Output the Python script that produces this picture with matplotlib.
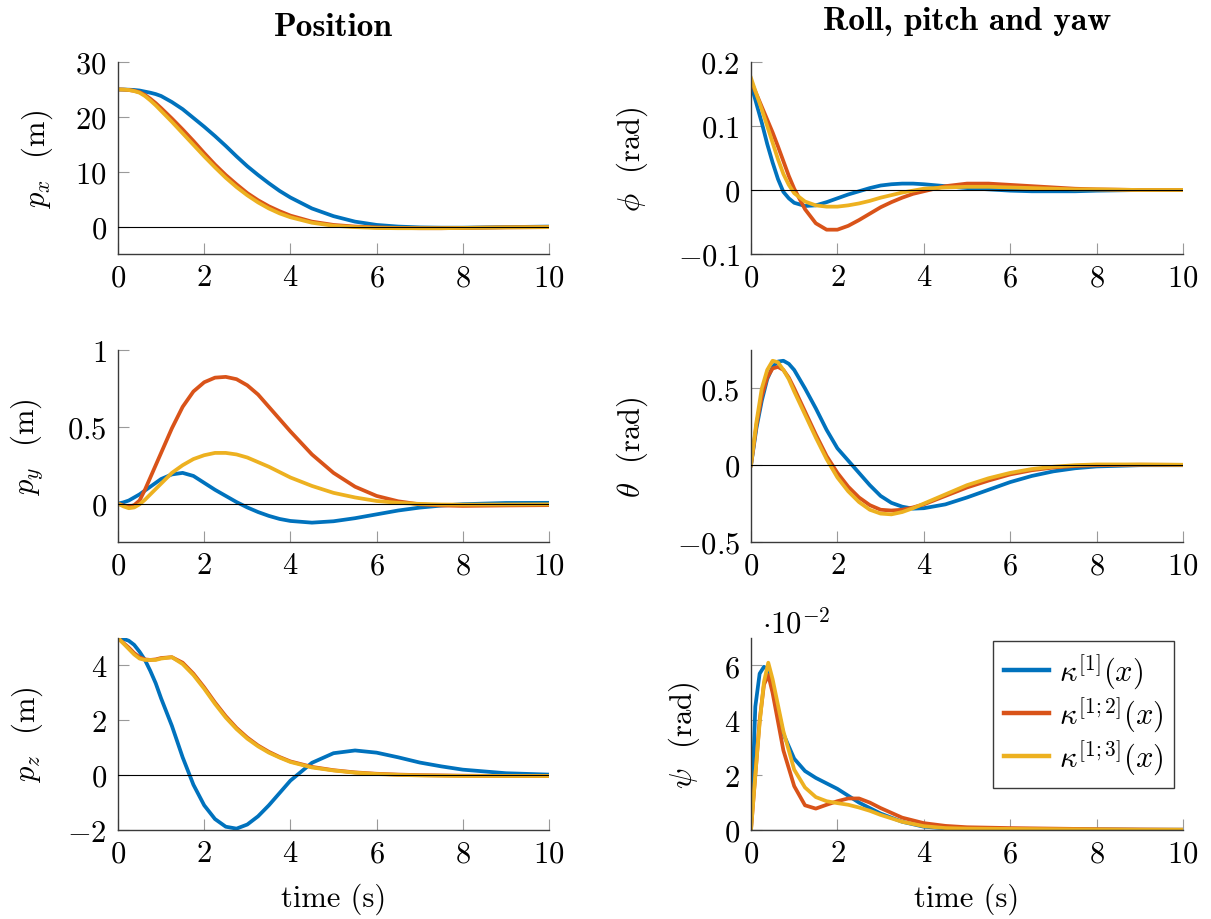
import numpy as np
import matplotlib
matplotlib.use("Agg")
import matplotlib.pyplot as plt
from matplotlib.ticker import FuncFormatter

plt.rcParams['font.family'] = 'cmr10'
plt.rcParams['mathtext.fontset'] = 'cm'
plt.rcParams['axes.unicode_minus'] = False
plt.rcParams['axes.formatter.use_mathtext'] = True

# sample times (s)
t = [0, 0.125, 0.25, 0.375, 0.5, 0.625, 0.75, 0.875, 1, 1.25, 1.5, 1.75, 2, 2.25, 2.5,
     2.75, 3, 3.25, 3.5, 3.75, 4, 4.5, 5, 5.5, 6, 6.5, 7, 7.5, 8, 9, 10]
t_psi = [0, 0.1, 0.2, 0.3, 0.4, 0.5, 0.75, 1, 1.25, 1.5, 1.75, 2, 2.25, 2.5,
         2.75, 3, 3.5, 4, 4.5, 5, 6, 7, 8, 9, 10]

# position (m)
px_k1 = [25, 24.98, 24.95, 24.9, 24.8, 24.6, 24.4, 24.15, 23.8, 22.7, 21.4, 19.8, 18.2, 16.5, 14.7,
         12.8, 11.0, 9.4, 7.9, 6.5, 5.3, 3.3, 1.9, 0.9, 0.3, 0.0, -0.15, -0.2, -0.2, -0.1, 0.0]
px_k12 = [25, 24.97, 24.9, 24.75, 24.5, 24.0, 23.3, 22.5, 21.6, 19.7, 17.7, 15.6, 13.4, 11.3, 9.4,
          7.7, 6.1, 4.8, 3.7, 2.8, 2.0, 0.9, 0.3, 0.0, -0.15, -0.25, -0.3, -0.3, -0.25, -0.15, -0.1]
px_k13 = [25, 24.97, 24.9, 24.7, 24.4, 23.8, 23.0, 22.1, 21.1, 19.1, 17.0, 14.9, 12.8, 10.8, 8.9,
          7.2, 5.7, 4.4, 3.3, 2.4, 1.7, 0.7, 0.15, -0.1, -0.25, -0.3, -0.3, -0.3, -0.25, -0.15, -0.1]

py_k1 = [0, 0.008, 0.02, 0.04, 0.06, 0.085, 0.11, 0.135, 0.16, 0.19, 0.2, 0.18, 0.135, 0.09, 0.05,
         0.01, -0.025, -0.055, -0.08, -0.1, -0.113, -0.124, -0.115, -0.095, -0.07, -0.045, -0.026,
         -0.013, -0.004, 0.004, 0.005]
py_k12 = [0, -0.012, -0.02, -0.01, 0.02, 0.09, 0.17, 0.25, 0.33, 0.49, 0.63, 0.73, 0.79, 0.82, 0.825,
          0.81, 0.77, 0.71, 0.63, 0.55, 0.47, 0.32, 0.20, 0.11, 0.05, 0.015, -0.005, -0.012, -0.015,
          -0.012, -0.01]
py_k13 = [0, -0.018, -0.03, -0.025, -0.005, 0.025, 0.06, 0.095, 0.13, 0.20, 0.25, 0.29, 0.315, 0.33, 0.33,
          0.32, 0.30, 0.27, 0.24, 0.205, 0.17, 0.115, 0.07, 0.04, 0.017, 0.005, -0.002, -0.006, -0.007,
          -0.006, -0.005]

pz_k1 = [5, 4.97, 4.9, 4.75, 4.5, 4.2, 3.8, 3.35, 2.8, 1.8, 0.65, -0.35, -1.1, -1.6, -1.88,
         -1.95, -1.8, -1.5, -1.1, -0.65, -0.2, 0.45, 0.8, 0.9, 0.82, 0.65, 0.46, 0.32, 0.2, 0.07, 0.02]
pz_k12 = [5, 4.82, 4.65, 4.45, 4.3, 4.22, 4.2, 4.22, 4.27, 4.3, 4.1, 3.7, 3.2, 2.65, 2.15,
          1.72, 1.37, 1.08, 0.85, 0.66, 0.5, 0.3, 0.18, 0.1, 0.05, 0.02, 0.0, -0.01, -0.02, -0.03, -0.03]
pz_k13 = [5, 4.8, 4.6, 4.4, 4.25, 4.2, 4.2, 4.2, 4.25, 4.3, 4.05, 3.65, 3.15, 2.6, 2.1,
          1.68, 1.33, 1.05, 0.82, 0.64, 0.48, 0.28, 0.17, 0.09, 0.04, 0.01, -0.01, -0.02, -0.03, -0.03, -0.03]

# roll, pitch, yaw (rad)
phi_k1 = [0.165, 0.135, 0.105, 0.072, 0.043, 0.017, -0.003, -0.013, -0.02, -0.025, -0.024, -0.019, -0.013,
          -0.007, -0.002, 0.003, 0.007, 0.009, 0.010, 0.010, 0.009, 0.006, 0.003, 0.001, -0.001, -0.002,
          -0.002, -0.002, -0.001, 0.0, 0.0]
phi_k12 = [0.17, 0.15, 0.13, 0.11, 0.09, 0.068, 0.045, 0.022, 0.002, -0.03, -0.052, -0.062, -0.062,
           -0.056, -0.047, -0.037, -0.027, -0.019, -0.012, -0.006, -0.002, 0.006, 0.010, 0.010, 0.008,
           0.006, 0.004, 0.002, 0.001, 0.0, 0.0]
phi_k13 = [0.175, 0.15, 0.126, 0.1, 0.074, 0.048, 0.025, 0.008, -0.005, -0.018, -0.024, -0.026, -0.026,
           -0.024, -0.021, -0.017, -0.012, -0.008, -0.004, -0.001, 0.002, 0.004, 0.005, 0.005, 0.004,
           0.003, 0.002, 0.001, 0.001, 0.0, 0.0]

theta_k1 = [0, 0.24, 0.42, 0.56, 0.64, 0.675, 0.68, 0.66, 0.62, 0.5, 0.37, 0.23, 0.11, 0.03, -0.05,
            -0.13, -0.2, -0.245, -0.27, -0.283, -0.28, -0.255, -0.21, -0.16, -0.11, -0.07, -0.04,
            -0.02, -0.008, 0.0, 0.0]
theta_k12 = [0, 0.26, 0.45, 0.57, 0.63, 0.64, 0.62, 0.57, 0.5, 0.35, 0.2, 0.06, -0.05, -0.14, -0.21,
             -0.26, -0.29, -0.295, -0.29, -0.275, -0.255, -0.2, -0.145, -0.1, -0.06, -0.033, -0.015,
             -0.005, 0.0, 0.003, 0.002]
theta_k13 = [0, 0.28, 0.5, 0.62, 0.68, 0.67, 0.62, 0.56, 0.48, 0.33, 0.18, 0.04, -0.08, -0.17, -0.24,
             -0.29, -0.315, -0.32, -0.305, -0.28, -0.25, -0.19, -0.13, -0.085, -0.05, -0.025, -0.01,
             0.0, 0.005, 0.005, 0.003]

psi_k1 = np.array([0, 4.5, 5.7, 5.95, 5.85, 5.3, 3.5, 2.6, 2.15, 1.9, 1.7, 1.5, 1.25, 1.0,
                   0.8, 0.6, 0.3, 0.12, 0.06, 0.04, 0.03, 0.02, 0.02, 0.01, 0.01]) * 1e-2
psi_k12 = np.array([0, 2.0, 4.0, 5.3, 5.65, 5.0, 2.9, 1.6, 0.9, 0.78, 0.92, 1.05, 1.15, 1.15,
                    1.0, 0.8, 0.45, 0.25, 0.15, 0.1, 0.07, 0.05, 0.03, 0.02, 0.01]) * 1e-2
psi_k13 = np.array([0, 2.0, 3.9, 5.4, 6.1, 5.5, 3.6, 2.2, 1.55, 1.2, 1.05, 0.98, 0.92, 0.82,
                    0.7, 0.55, 0.3, 0.14, 0.07, 0.05, 0.04, 0.03, 0.02, 0.01, 0.01]) * 1e-2

colors = ['#0072BD', '#D95319', '#EDB120']
legend_labels = [r'$\kappa^{[1]}(x)$', r'$\kappa^{[1{;}2]}(x)$', r'$\kappa^{[1{;}3]}(x)$']

FS = 22
W, H = 1211, 920
fig = plt.figure(figsize=(W / 100, H / 100), dpi=100)


def make_axes(left, top, width=431, height=192):
    return fig.add_axes([left / W, 1 - (top + height) / H, width / W, height / H])


def style(ax, ylim, yticks, ylabel, label_x, scale=1.0):
    ax.set_xlim(0, 10)
    ax.set_ylim(*ylim)
    ax.set_xticks([0, 2, 4, 6, 8, 10])
    ax.set_yticks(yticks)
    ax.xaxis.set_major_formatter(FuncFormatter(lambda v, _: f'${v:g}$'))
    ax.yaxis.set_major_formatter(FuncFormatter(lambda v, _: f'${v / scale:g}$'))
    for s in ['top', 'right']:
        ax.spines[s].set_visible(False)
    for s in ['left', 'bottom']:
        ax.spines[s].set_color('#3a3a3a')
        ax.spines[s].set_linewidth(1.0)
    ax.tick_params(direction='in', length=8, width=0.8, color='#9a9a9a',
                   labelsize=FS, labelcolor='black')
    ax.tick_params(axis='x', pad=7)
    ax.tick_params(axis='y', pad=8)
    ax.set_ylabel(ylabel, fontsize=FS)
    ax.yaxis.set_label_coords(label_x, 0.5)
    ax.axhline(0, color='black', lw=0.8, zorder=5)


def draw(ax, tt, series):
    lines = []
    for y, c in zip(series, colors):
        ln, = ax.plot(tt, y, color=c, lw=2.7, solid_joinstyle='round')
        lines.append(ln)
    return lines


ax = make_axes(118, 63)
draw(ax, t, [px_k1, px_k12, px_k13])
style(ax, (-5, 30), [0, 10, 20, 30], r'$p_x$  (m)', -0.147)
ax.text(0.5, (255 - 36) / 192, 'Position', transform=ax.transAxes,
        ha='center', va='baseline', fontsize=24, family='cmb10')

ax = make_axes(751, 63, 432)
draw(ax, t, [phi_k1, phi_k12, phi_k13])
style(ax, (-0.1, 0.2), [-0.1, 0, 0.1, 0.2], r'$\phi$  (rad)', -0.233)
ax.text(0.5, (255 - 30) / 192, 'Roll, pitch and yaw', transform=ax.transAxes,
        ha='center', va='baseline', fontsize=24, family='cmb10')

ax = make_axes(118, 351)
draw(ax, t, [py_k1, py_k12, py_k13])
style(ax, (-0.25, 1), [0, 0.5, 1], r'$p_y$  (m)', -0.169)

ax = make_axes(751, 351, 432)
draw(ax, t, [theta_k1, theta_k12, theta_k13])
style(ax, (-0.5, 0.75), [-0.5, 0, 0.5], r'$\theta$  (rad)', -0.233)

ax = make_axes(118, 639)
draw(ax, t, [pz_k1, pz_k12, pz_k13])
style(ax, (-2, 5), [-2, 0, 2, 4], r'$p_z$  (m)', -0.169)
ax.text(0.5, (831 - 907) / 192, 'time (s)', transform=ax.transAxes,
        ha='center', va='baseline', fontsize=FS)

ax = make_axes(751, 639, 432)
lines = draw(ax, t_psi, [psi_k1, psi_k12, psi_k13])
style(ax, (0, 0.07), [0, 0.02, 0.04, 0.06], r'$\psi$  (rad)', -0.113, scale=1e-2)
ax.text(0.5, (831 - 907) / 192, 'time (s)', transform=ax.transAxes,
        ha='center', va='baseline', fontsize=FS)
ax.text(0.025, (831 - 633) / 192, r'$\cdot 10^{-2}$', transform=ax.transAxes,
        ha='left', va='baseline', fontsize=FS)
leg = ax.legend(lines, legend_labels, loc='upper right',
                bbox_to_anchor=(1 - 9 / 432, 1 - 3 / 192), borderaxespad=0,
                fontsize=FS, frameon=True, fancybox=False, framealpha=1,
                edgecolor='#3a3a3a', handlelength=1.5, handletextpad=0.3,
                labelspacing=0.12, borderpad=0.35)
leg.get_frame().set_linewidth(1.0)
for ln in leg.get_lines():
    ln.set_linewidth(3.2)

fig.savefig('out.png', dpi=100)
